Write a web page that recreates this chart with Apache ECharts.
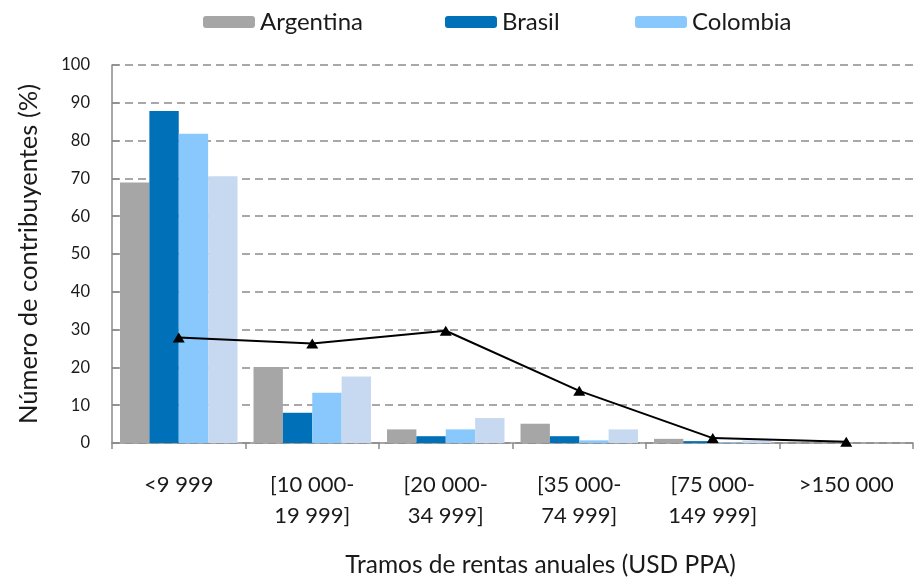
<!DOCTYPE html>
<html>
<head>
<meta charset="utf-8">
<script src="https://cdn.jsdelivr.net/npm/echarts@6/dist/echarts.min.js"></script>
<style>
  html, body { margin: 0; padding: 0; background: #fff; overflow: hidden; }
  #chart { width: 919px; height: 583px; }
</style>
</head>
<body>
<div id="chart"></div>
<script>
// Income brackets (annual, USD PPP)
const categories = ['<9 999', '[10 000-\n19 999]', '[20 000-\n34 999]', '[35 000-\n74 999]', '[75 000-\n149 999]', '>150 000'];

// Share of taxpayers in each bracket (%)
const argentina = [68.9, 20.1, 3.6, 5.1, 1.1, 0];
const brasil    = [87.8, 8.0, 1.8, 1.8, 0.5, 0];
const colombia  = [81.8, 13.3, 3.6, 0.7, 0.2, 0];
const serie4    = [70.6, 17.6, 6.6, 3.6, 0.7, 0];
const serie5    = [27.9, 26.3, 29.7, 13.8, 1.3, 0.3];

const yTicks = { min: 0, max: 100, interval: 10 };

const FONT = 'Lato, "Open Sans", sans-serif';
const TEXT = '#1a1a1a';

const chart = echarts.init(document.getElementById('chart'), null, { renderer: 'canvas' });

function legendAt(name, left) {
  return {
    data: [name],
    left: left,
    top: 10,
    padding: 0,
    itemWidth: 52,
    itemHeight: 12,
    selectedMode: false,
    textStyle: { fontFamily: FONT, fontSize: 24, color: TEXT }
  };
}

chart.setOption({
  animation: false,
  backgroundColor: '#fff',
  legend: [
    legendAt('Argentina', 203),
    legendAt('Brasil', 445),
    legendAt('Colombia', 635)
  ],
  // plot area: x 112..913, y 65..448
  grid: { left: 112, right: 6, top: 65, bottom: 135, containLabel: false },
  xAxis: {
    type: 'category',
    data: categories,
    boundaryGap: true,
    name: 'Tramos de rentas anuales (USD PPA)',
    nameLocation: 'middle',
    nameGap: 110,
    nameTextStyle: { fontFamily: FONT, fontSize: 24.5, color: TEXT, padding: [0, 0, 0, 56] },
    axisLine: { lineStyle: { color: '#8a8a8a', width: 1.5 } },
    axisTick: { show: true, alignWithLabel: false, length: 6, lineStyle: { color: '#8a8a8a', width: 1.5 } },
    axisLabel: { fontFamily: FONT, fontSize: 22, color: TEXT, margin: 26, lineHeight: 31, interval: 0 },
    splitLine: { show: false }
  },
  yAxis: {
    type: 'value',
    min: yTicks.min,
    max: yTicks.max,
    interval: yTicks.interval,
    name: 'Número de contribuyentes (%)',
    nameLocation: 'middle',
    nameGap: 70,
    nameTextStyle: { fontFamily: FONT, fontSize: 25.5, color: TEXT },
    axisLine: { show: true, lineStyle: { color: '#8a8a8a', width: 1.5 } },
    axisTick: { show: true, inside: true, length: 7, lineStyle: { color: '#8a8a8a', width: 1.5 } },
    axisLabel: { fontFamily: FONT, fontSize: 16.5, color: TEXT, margin: 22 },
    splitLine: { show: true, lineStyle: { color: '#8c8c8c', width: 1.5, type: [8, 5] } }
  },
  series: [
    { name: 'Argentina', type: 'bar', data: argentina, barGap: '0%', barCategoryGap: '12%',
      itemStyle: { color: '#a6a6a6' } },
    { name: 'Brasil', type: 'bar', data: brasil, barGap: '0%', barCategoryGap: '12%',
      itemStyle: { color: '#0070b8' } },
    { name: 'Colombia', type: 'bar', data: colombia, barGap: '0%', barCategoryGap: '12%',
      itemStyle: { color: '#88c8fc' } },
    { name: 'Serie 4', type: 'bar', data: serie4, barGap: '0%', barCategoryGap: '12%',
      itemStyle: { color: '#c6d9f1' } },
    { name: 'Serie 5', type: 'line', data: serie5, symbol: 'triangle', symbolSize: [12, 10],
      lineStyle: { color: '#000', width: 2 }, itemStyle: { color: '#000' }, z: 5 }
  ]
});
</script>
</body>
</html>
